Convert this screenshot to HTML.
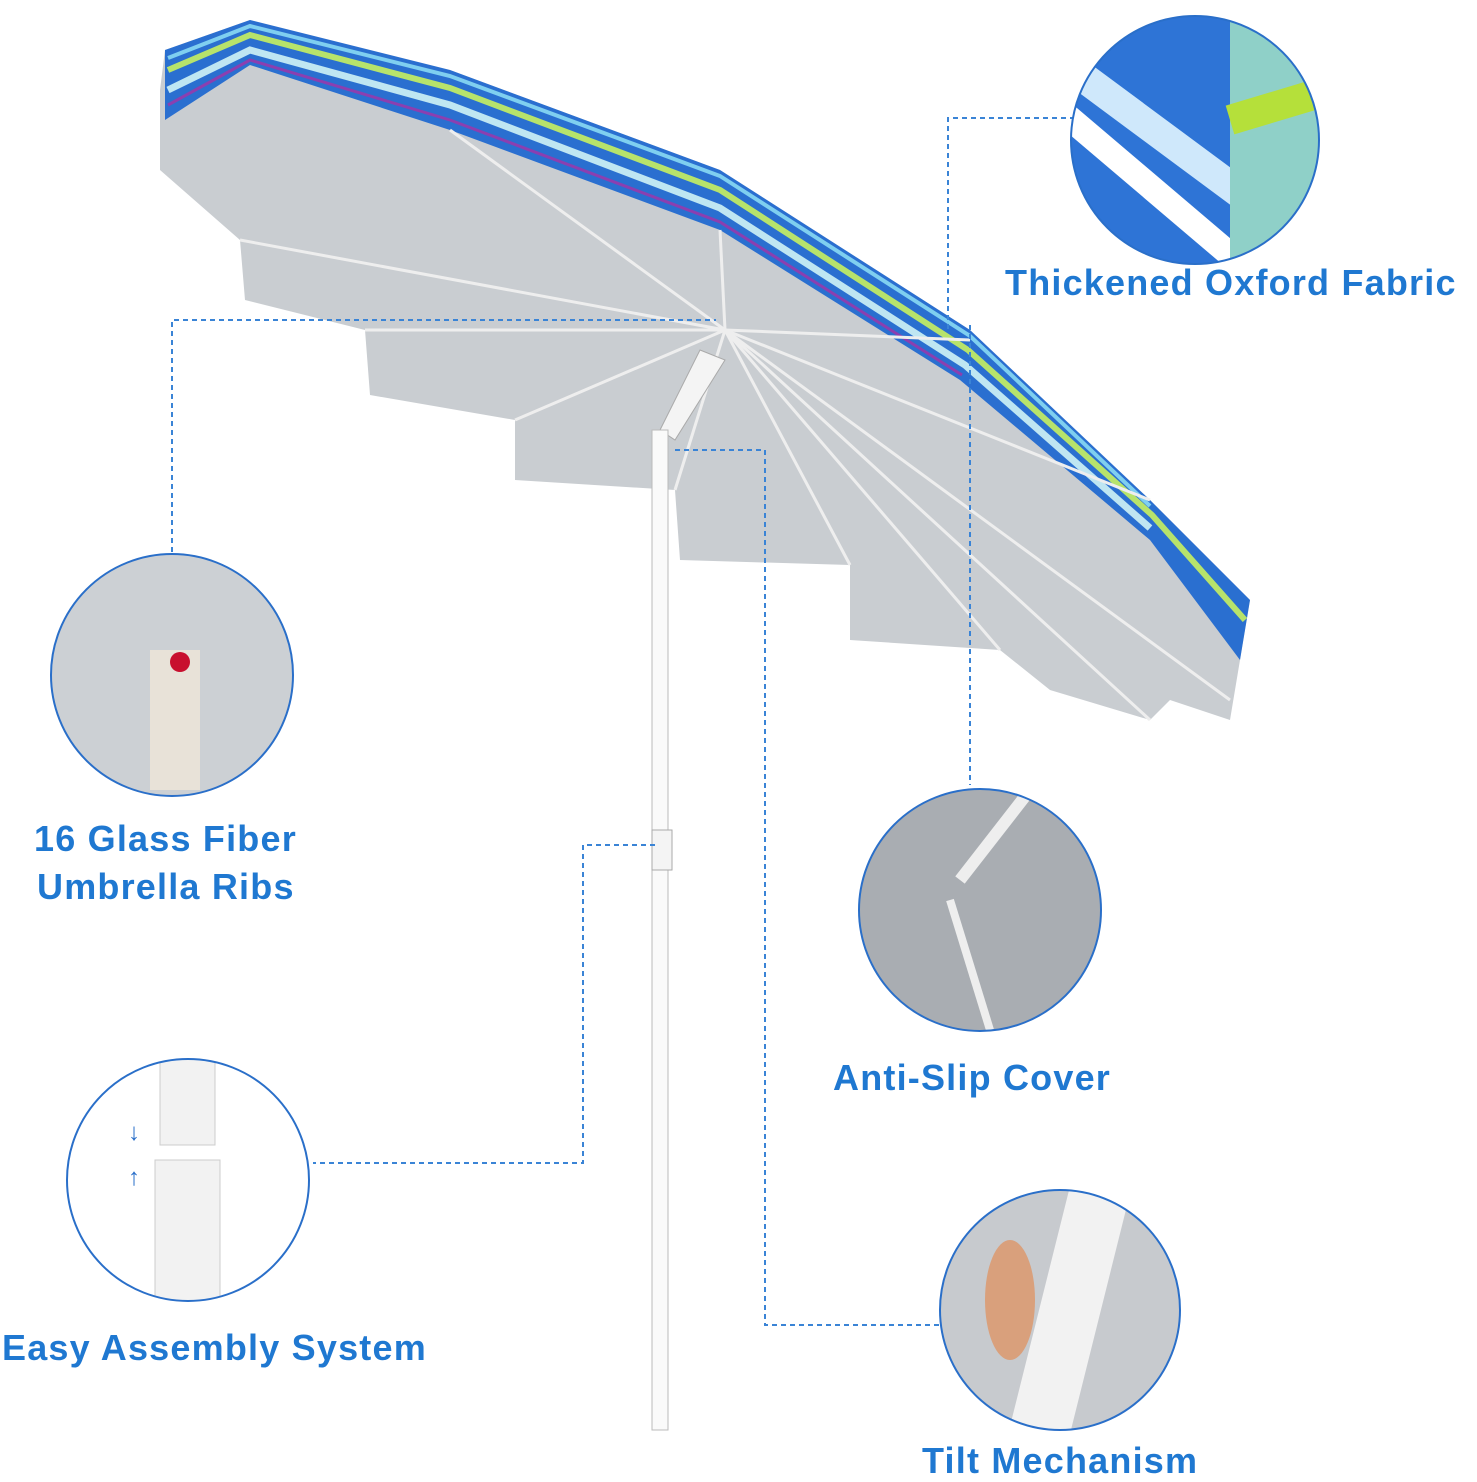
<!DOCTYPE html>
<html><head><meta charset="utf-8"><style>
body{margin:0;background:#fff;width:1477px;height:1478px;overflow:hidden;font-family:"Liberation Sans",sans-serif}
.l{position:absolute;color:#1f78d1;font-size:36px;font-weight:bold;white-space:nowrap;letter-spacing:1.2px}
</style></head><body>
<svg width="1477" height="1478" style="position:absolute;left:0;top:0">
<defs>
<clipPath id="c1"><circle cx="1195" cy="140" r="124"/></clipPath>
<clipPath id="c2"><circle cx="172" cy="675" r="121"/></clipPath>
<clipPath id="c3"><circle cx="980" cy="910" r="121"/></clipPath>
<clipPath id="c4"><circle cx="188" cy="1180" r="121"/></clipPath>
<clipPath id="c5"><circle cx="1060" cy="1310" r="120"/></clipPath>
</defs>
<path d="M160,90 L160,170 L240,240 L245,300 L365,330 L370,395 L515,420 L515,480 L675,490 L680,560 L850,565 L850,640 L1000,650 L1050,690 L1150,720 L1170,700 L1230,720 L1250,600 L1150,500 L970,330 L720,170 L450,70 L250,20 L165,50Z" fill="#c9cdd1"/>
<path d="M165,50 L250,20 L450,70 L720,170 L970,330 L1150,500 L1250,600 L1240,660 L1150,540 L960,380 L720,230 L450,130 L250,65 L165,120Z" fill="#2a6fd0"/>
<path d="M168,70 L250,35 L450,88 L720,190 L968,350 L1152,515 L1245,620" stroke="#b7e36b" stroke-width="6" fill="none"/>
<path d="M168,90 L250,50 L450,105 L720,208 L965,365 L1150,528" stroke="#bfe6f2" stroke-width="7" fill="none"/>
<path d="M168,58 L250,26 L450,76 L720,176 L970,336 L1150,506" stroke="#7fcff0" stroke-width="4" fill="none"/>
<path d="M168,105 L250,60 L450,120 L720,222 L962,375" stroke="#8b3fb0" stroke-width="3" fill="none"/>
<g stroke="#eee" stroke-width="3">
<line x1="725" y1="330" x2="240" y2="240"/><line x1="725" y1="330" x2="365" y2="330"/>
<line x1="725" y1="330" x2="515" y2="420"/><line x1="725" y1="330" x2="675" y2="490"/>
<line x1="725" y1="330" x2="850" y2="565"/><line x1="725" y1="330" x2="1000" y2="650"/>
<line x1="725" y1="330" x2="1150" y2="720"/><line x1="725" y1="330" x2="1230" y2="700"/>
<line x1="725" y1="330" x2="1150" y2="500"/><line x1="725" y1="330" x2="970" y2="340"/>
<line x1="725" y1="330" x2="450" y2="130"/><line x1="725" y1="330" x2="720" y2="230"/>
</g>
<path d="M700,350 L725,360 L675,440 L660,430Z" fill="#f4f4f4" stroke="#aaa"/>
<rect x="652" y="430" width="16" height="1000" fill="#fafafa" stroke="#bbb"/>
<rect x="652" y="830" width="20" height="40" fill="#f4f4f4" stroke="#aaa"/>
<g stroke="#3a84d6" stroke-width="2" stroke-dasharray="5,4" fill="none">
<polyline points="1075,118 948,118 948,330"/>
<polyline points="172,552 172,320 716,320"/>
<polyline points="970,325 970,785"/>
<polyline points="655,845 583,845 583,1163 313,1163"/>
<polyline points="675,450 765,450 765,1325 940,1325"/>
</g>
<g clip-path="url(#c1)"><rect x="1060" y="10" width="270" height="260" fill="#2e74d6"/>
<path d="M1060,60 L1330,260" stroke="#cfe8fb" stroke-width="30"/><path d="M1060,110 L1260,280" stroke="#fff" stroke-width="25"/>
<rect x="1230" y="10" width="100" height="260" fill="#8fd0c8"/><path d="M1230,120 L1330,90" stroke="#b5e03a" stroke-width="30"/></g>
<circle cx="1195" cy="140" r="124" fill="none" stroke="#2a6fc9" stroke-width="2"/>
<g clip-path="url(#c2)"><rect x="50" y="550" width="250" height="250" fill="#ccd0d4"/>
<rect x="150" y="650" width="50" height="140" fill="#e8e2d8"/><circle cx="180" cy="662" r="10" fill="#c8102e"/></g>
<circle cx="172" cy="675" r="121" fill="none" stroke="#2a6fc9" stroke-width="2"/>
<g clip-path="url(#c3)"><rect x="855" y="785" width="250" height="250" fill="#a9adb2"/>
<path d="M1030,790 L960,880" stroke="#eee" stroke-width="12"/><path d="M950,900 L990,1030" stroke="#eee" stroke-width="8"/></g>
<circle cx="980" cy="910" r="121" fill="none" stroke="#2a6fc9" stroke-width="2"/>
<g clip-path="url(#c4)"><rect x="65" y="1055" width="250" height="250" fill="#fff"/>
<rect x="160" y="1050" width="55" height="95" fill="#f2f2f2" stroke="#ccc"/><rect x="155" y="1160" width="65" height="150" fill="#f2f2f2" stroke="#ccc"/>
<text x="128" y="1140" fill="#2a6fc9" font-size="24">↓</text><text x="128" y="1185" fill="#2a6fc9" font-size="24">↑</text></g>
<circle cx="188" cy="1180" r="121" fill="none" stroke="#2a6fc9" stroke-width="2"/>
<g clip-path="url(#c5)"><rect x="940" y="1190" width="240" height="240" fill="#c7cace"/>
<path d="M1100,1190 L1040,1430" stroke="#f2f2f2" stroke-width="60"/><ellipse cx="1010" cy="1300" rx="25" ry="60" fill="#d9a07c"/></g>
<circle cx="1060" cy="1310" r="120" fill="none" stroke="#2a6fc9" stroke-width="2"/>
</svg>
<div class="l" style="left:1005px;top:262px">Thickened Oxford Fabric</div>
<div class="l" style="left:34px;top:818px">16 Glass Fiber</div>
<div class="l" style="left:37px;top:866px">Umbrella Ribs</div>
<div class="l" style="left:833px;top:1057px">Anti-Slip Cover</div>
<div class="l" style="left:2px;top:1327px">Easy Assembly System</div>
<div class="l" style="left:922px;top:1440px">Tilt Mechanism</div>
</body></html>
